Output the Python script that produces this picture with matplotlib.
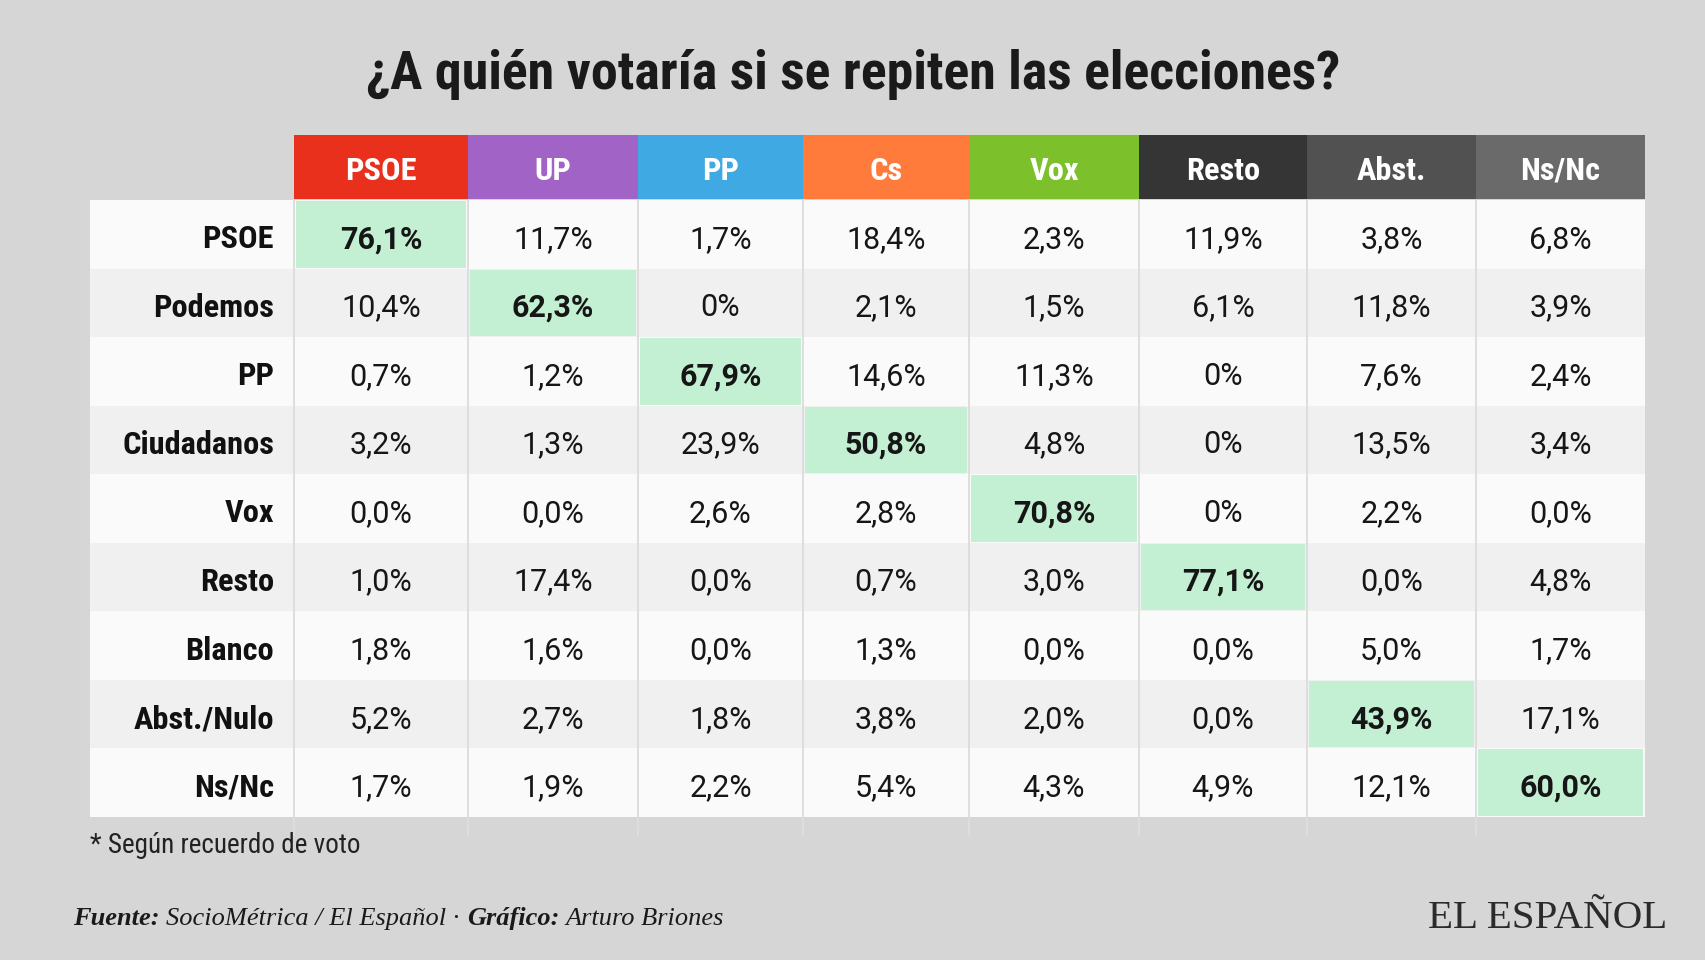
import os
import matplotlib
matplotlib.use("Agg")
import matplotlib.pyplot as plt
from matplotlib import font_manager as fm
from matplotlib.font_manager import FontProperties
from matplotlib.patches import Rectangle

# ---------------- data ----------------
title = "¿A quién votaría si se repiten las elecciones?"
col_labels = ["PSOE", "UP", "PP", "Cs", "Vox", "Resto", "Abst.", "Ns/Nc"]
col_colors = ["#e8301c", "#a263c6", "#3ea9e3", "#ff7b3b", "#7cc02c",
              "#353535", "#515151", "#6a6a6a"]
row_labels = ["PSOE", "Podemos", "PP", "Ciudadanos", "Vox", "Resto",
              "Blanco", "Abst./Nulo", "Ns/Nc"]
# one list per column (vote intention); ints are shown without decimals
vals_psoe = [76.1, 10.4, 0.7, 3.2, 0.0, 1.0, 1.8, 5.2, 1.7]
vals_up = [11.7, 62.3, 1.2, 1.3, 0.0, 17.4, 1.6, 2.7, 1.9]
vals_pp = [1.7, 0, 67.9, 23.9, 2.6, 0.0, 0.0, 1.8, 2.2]
vals_cs = [18.4, 2.1, 14.6, 50.8, 2.8, 0.7, 1.3, 3.8, 5.4]
vals_vox = [2.3, 1.5, 11.3, 4.8, 70.8, 3.0, 0.0, 2.0, 4.3]
vals_resto = [11.9, 6.1, 0, 0, 0, 77.1, 0.0, 0.0, 4.9]
vals_abst = [3.8, 11.8, 7.6, 13.5, 2.2, 0.0, 5.0, 43.9, 12.1]
vals_nsnc = [6.8, 3.9, 2.4, 3.4, 0.0, 4.8, 1.7, 17.1, 60.0]
highlight_col = [0, 1, 2, 3, 4, 5, None, 6, 7]
footnote = "* Según recuerdo de voto"
source_parts = [("Fuente:", "bold"), ("SocioMétrica / El Español ·", "normal"),
                ("Gráfico:", "bold"), ("Arturo Briones", "normal")]
logo = "EL ESPAÑOL"

columns = [vals_psoe, vals_up, vals_pp, vals_cs, vals_vox, vals_resto,
           vals_abst, vals_nsnc]


def fmt(v):
    if isinstance(v, int):
        return f"{v}%"
    return f"{v:.1f}".replace(".", ",") + "%"


# ---------------- fonts ----------------
def find_condensed(bold):
    prefs = ["roboto condensed", "robotocondensed", "liberation sans narrow",
             "liberationsansnarrow", "noto sans condensed", "notosans-condensed",
             "dejavu sans condensed", "dejavusanscondensed", "open sans condensed",
             "opensans-condensed", "opensanscondensed"]
    cands = []
    for f in fm.fontManager.ttflist:
        fn = os.path.basename(f.fname).lower()
        key = (f.name + " " + fn).lower()
        if f.style != "normal":
            continue
        if "italic" in fn or "oblique" in fn:
            continue
        if "extra" in fn or "semi" in fn or "ultra" in fn:
            continue
        w = f.weight
        if isinstance(w, str):
            w = {"bold": 700, "normal": 400, "regular": 400}.get(w, 400)
        ok = (w >= 700 and w < 800) if bold else (w == 400)
        if not ok:
            continue
        for rank, p in enumerate(prefs):
            if p in key:
                cands.append((rank, f.fname))
                break
    if cands:
        cands.sort()
        return FontProperties(fname=cands[0][1])
    return FontProperties(family=["Roboto", "DejaVu Sans"],
                          weight="bold" if bold else "normal")


cond_bold = find_condensed(True)
cond_reg = find_condensed(False)
val_reg = FontProperties(family=["Roboto", "DejaVu Sans"], weight="normal")
val_bold = FontProperties(family=["Roboto", "DejaVu Sans"], weight="bold")

# ---------------- figure ----------------
W, H = 1706, 960
BG = "#d6d6d6"
fig = plt.figure(figsize=(W / 100, H / 100), dpi=100, facecolor=BG)
ax = fig.add_axes([0, 0, 1, 1])
ax.set_xlim(0, W)
ax.set_ylim(H, 0)
ax.axis("off")
renderer = fig.canvas.get_renderer()


def width_px(t):
    return t.get_window_extent(renderer).width


def fit(t, target, cap=None):
    w = width_px(t)
    s = t.get_fontsize() * target / w
    if cap is not None:
        s = min(s, cap)
    t.set_fontsize(s)
    return s


col_edges = [294, 468, 638, 803, 969, 1139, 1307, 1476, 1645]
table_left = 90
header_top, header_bot = 135, 199
body_top, body_bot = 200, 817
line_bot = 836
n_rows = len(row_labels)
row_h = (body_bot - body_top) / n_rows

# title
t_title = ax.text(W / 2, 89, title, ha="center", va="baseline",
                  fontproperties=cond_bold, fontsize=42, color="#1a1a1a")
fit(t_title, 975, cap=43)

# header
header_texts = []
for j, lab in enumerate(col_labels):
    x0, x1 = col_edges[j], col_edges[j + 1]
    ax.add_patch(Rectangle((x0, header_top), x1 - x0, header_bot - header_top,
                           facecolor=col_colors[j], edgecolor="none", zorder=1))
    t = ax.text((x0 + x1) / 2, (header_top + header_bot) / 2 + 1, lab,
                ha="center", va="center_baseline", fontproperties=cond_bold,
                fontsize=27, color="white", zorder=3)
    header_texts.append(t)

# body rows
row_texts = []
for i, lab in enumerate(row_labels):
    y0 = body_top + i * row_h
    ax.add_patch(Rectangle((table_left, y0), col_edges[-1] - table_left, row_h,
                           facecolor="#fafafa" if i % 2 == 0 else "#f0f0f0",
                           edgecolor="none", zorder=1))
    hc = highlight_col[i]
    if hc is not None:
        ax.add_patch(Rectangle((col_edges[hc] + 2, y0 + 1),
                               col_edges[hc + 1] - col_edges[hc] - 4, row_h - 2,
                               facecolor="#c3efd3", edgecolor="none", zorder=2))
    yc = y0 + row_h / 2 + 2
    t = ax.text(274, yc, lab, ha="right", va="center_baseline",
                fontproperties=cond_bold, fontsize=27, color="#111111", zorder=3)
    row_texts.append(t)
    for j, col in enumerate(columns):
        xc = (col_edges[j] + col_edges[j + 1]) / 2
        bold = hc == j
        ax.text(xc, yc, fmt(col[i]), ha="center", va="center_baseline",
                fontproperties=val_bold if bold else val_reg, fontsize=22,
                color="#161616", zorder=3)

# scale row/col labels so the widest row label fits its measured width
ref = row_texts[row_labels.index("Ciudadanos")]
w = width_px(ref)
scale = min(1.0, 152 / w)
for t in row_texts + header_texts:
    t.set_fontsize(t.get_fontsize() * scale)

# column separators
ax.vlines(col_edges[:-1], body_top, body_bot, colors="#dcdcdc", lw=1.3, zorder=2.5)
ax.vlines(col_edges[:-1], body_bot, line_bot, colors="#dedede", lw=1.3, zorder=2.5)

# footnote
t_fn = ax.text(table_left, 853, footnote, ha="left", va="baseline",
               fontproperties=cond_reg, fontsize=19, color="#222222")
fit(t_fn, 270, cap=20)

# source line
serif_it = FontProperties(family=["Liberation Serif", "DejaVu Serif"],
                          style="italic", weight="normal")
serif_bi = FontProperties(family=["Liberation Serif", "DejaVu Serif"],
                          style="italic", weight="bold")
src_texts = []
for s, wgt in source_parts:
    t = ax.text(0, 925, s, ha="left", va="baseline",
                fontproperties=serif_bi if wgt == "bold" else serif_it,
                fontsize=18, color="#1a1a1a")
    src_texts.append(t)


def layout_source(size):
    x = 73
    gap = size * 100 / 72 * 0.26
    for t in src_texts:
        t.set_fontsize(size)
        t.set_x(x)
        x += width_px(t) + gap
    return x - gap - 73


tot = layout_source(18)
layout_source(min(19, 18 * 654 / tot))

# logo
t_logo = ax.text(1667, 928, logo, ha="right", va="baseline",
                 fontproperties=FontProperties(family=["Liberation Serif", "DejaVu Serif"]),
                 fontsize=30, color="#2b2b2b")
fit(t_logo, 240, cap=34)

fig.savefig("out.png", dpi=100, facecolor=BG)
